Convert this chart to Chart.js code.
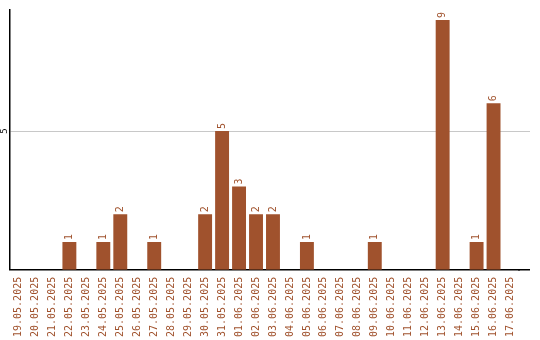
<!DOCTYPE html>
<html>
<head>
<meta charset="utf-8">
<script src="https://cdn.jsdelivr.net/npm/chart.js@4"></script>
<style>
  html, body { margin: 0; padding: 0; background: #fff; }
  #wrap { width: 540px; height: 340px; position: relative; }
</style>
</head>
<body>
<div id="wrap"><canvas id="chart"></canvas></div>
<script>
const days = [
    '19.05.2025', '20.05.2025', '21.05.2025', '22.05.2025', '23.05.2025', '24.05.2025',
    '25.05.2025', '26.05.2025', '27.05.2025', '28.05.2025', '29.05.2025', '30.05.2025',
    '31.05.2025', '01.06.2025', '02.06.2025', '03.06.2025', '04.06.2025', '05.06.2025',
    '06.06.2025', '07.06.2025', '08.06.2025', '09.06.2025', '10.06.2025', '11.06.2025',
    '12.06.2025', '13.06.2025', '14.06.2025', '15.06.2025', '16.06.2025', '17.06.2025'
];
const counts = [
    0, 0, 0, 1, 0, 1,
    2, 0, 1, 0, 0, 2,
    5, 3, 2, 2, 0, 1,
    0, 0, 0, 1, 0, 0,
    0, 9, 0, 1, 6, 0
];
const yTicks = [5];

const barColor = '#a0522d';
const gridColor = '#c8c8c8';
const monoFont = '"DejaVu Sans Mono", monospace';
const axisRightEnd = 530;

// valores por cima das barras, escritos na vertical
const valueLabels = {
    id: 'valueLabels',
    beforeDatasetsDraw(chart) {
        // o eixo x e a grelha passam um pouco além da última categoria
        const ctx = chart.ctx;
        const area = chart.chartArea;
        const y = chart.scales.y;
        ctx.save();
        ctx.strokeStyle = gridColor;
        ctx.lineWidth = 1;
        yTicks.forEach(v => {
            const py = Math.round(y.getPixelForValue(v) - 0.5) + 0.5;
            ctx.beginPath();
            ctx.moveTo(area.right - 1, py);
            ctx.lineTo(axisRightEnd, py);
            ctx.stroke();
        });
        ctx.strokeStyle = '#000';
        ctx.lineWidth = 1.5;
        const by = Math.round(area.bottom - 0.75) + 0.75;
        ctx.beginPath();
        ctx.moveTo(area.right - 1, by);
        ctx.lineTo(axisRightEnd, by);
        ctx.stroke();
        ctx.restore();
    },
    afterDatasetsDraw(chart) {
        const ctx = chart.ctx;
        const meta = chart.getDatasetMeta(0);
        ctx.save();
        ctx.font = '10px ' + monoFont;
        ctx.fillStyle = barColor;
        ctx.textAlign = 'left';
        ctx.textBaseline = 'middle';
        meta.data.forEach((bar, i) => {
            if (!counts[i]) return;
            ctx.save();
            ctx.translate(bar.x, bar.y - 2);
            ctx.rotate(-Math.PI / 2);
            ctx.fillText(String(counts[i]), 0, 0);
            ctx.restore();
        });
        // rótulo do eixo y, também na vertical
        const y = chart.scales.y;
        ctx.fillStyle = '#000';
        ctx.textAlign = 'center';
        ctx.font = '9px ' + monoFont;
        yTicks.forEach(v => {
            ctx.save();
            ctx.translate(chart.chartArea.left - 5, y.getPixelForValue(v));
            ctx.rotate(-Math.PI / 2);
            ctx.fillText(String(v), 0, 0);
            ctx.restore();
        });
        ctx.restore();
    }
};

new Chart(document.getElementById('chart'), {
    type: 'bar',
    data: {
        labels: days,
        datasets: [{
            data: counts,
            backgroundColor: barColor,
            borderWidth: 0,
            barPercentage: 0.82,
            categoryPercentage: 1
        }]
    },
    options: {
        responsive: true,
        maintainAspectRatio: false,
        animation: false,
        layout: { padding: { left: 10, right: 21, top: 10, bottom: -4 } },
        scales: {
            y: {
                min: 0,
                max: 9.36,
                afterBuildTicks: axis => { axis.ticks = yTicks.map(v => ({ value: v })); },
                ticks: { display: false },
                grid: { color: gridColor, drawTicks: false },
                border: { display: true, color: '#000', width: 1.5 }
            },
            x: {
                grid: { display: false, drawTicks: false },
                border: { display: true, color: '#000', width: 1.5 },
                ticks: {
                    color: barColor,
                    font: { family: monoFont, size: 10 },
                    minRotation: 90,
                    maxRotation: 90,
                    autoSkip: false,
                    padding: 7
                }
            }
        },
        plugins: {
            legend: { display: false },
            tooltip: { enabled: false }
        }
    },
    plugins: [valueLabels]
});
</script>
</body>
</html>
